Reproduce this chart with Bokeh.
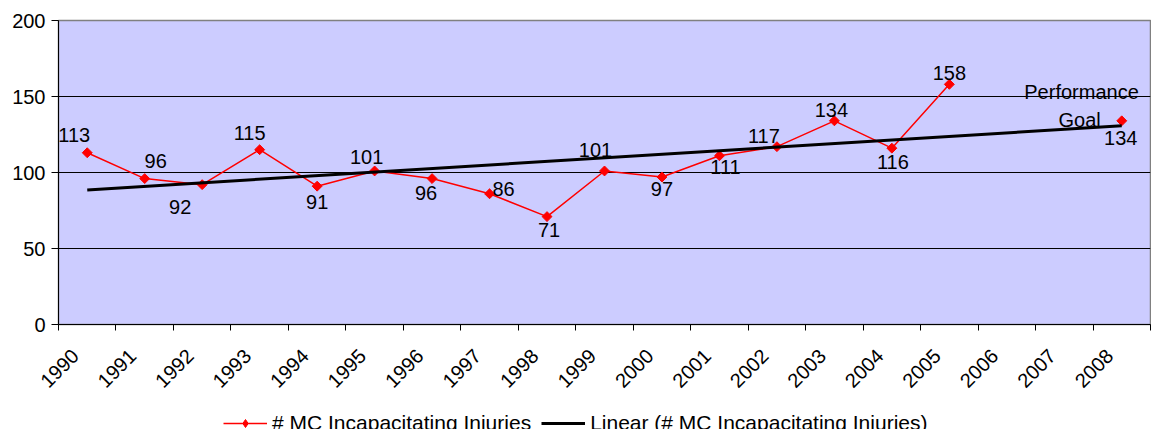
import math
import numpy as np
from bokeh.plotting import figure
from bokeh.layouts import column
from bokeh.models import (FixedTicker, Range1d, Legend, LegendItem,
                          ColumnDataSource)
from bokeh.core.properties import value
from bokeh.embed import file_html
from bokeh.resources import INLINE

# ---------------- data ----------------
years = ["1990", "1991", "1992", "1993", "1994", "1995", "1996", "1997",
         "1998", "1999", "2000", "2001", "2002", "2003", "2004", "2005",
         "2006", "2007", "2008"]
injuries = [113, 96, 92, 115, 91, 101, 96, 86, 71, 101, 97, 111, 117, 134,
            116, 158, None, None, 134]
trend_start = 88.5   # linear trend value at 1990
trend_end = 130.8    # linear trend value at 2008
goal_lines = ["Performance", "Goal"]
y_ticks = [0, 50, 100, 150, 200]
series_name = "# MC Incapacitating Injuries"
trend_name = "Linear (# MC Incapacitating Injuries)"

# ---------------- label placement (pixels) ----------------
lbl_dx = [-13, 11, -22, -10, 0, -8, -6, 14, 2, -9, 0, 6, -13, -3, 1, 0, 0, 0, -1]
lbl_dy = [-18, -18, 22, -17, 16, -14, 14, -5, 13, -21, 12, 11, -11, -11, 14, -11, 0, 0, 17]

FONT = "Liberation Sans"
FS = "20px"
RED = "#FF0000"

n = len(years)
xc = [i + 0.5 for i in range(n)]
x_lab = [i + 0.29 for i in range(n)]   # rotated label anchor, slightly left of centre
vals = [np.nan if v is None else float(v) for v in injuries]

src = ColumnDataSource(dict(x=xc, y=vals))
trend_src = ColumnDataSource(dict(x=[xc[0], xc[-1]], y=[trend_start, trend_end]))
have = [i for i, v in enumerate(injuries) if v is not None]
lab_src = ColumnDataSource(dict(
    x=[xc[i] for i in have],
    y=[vals[i] for i in have],
    t=[str(injuries[i]) for i in have],
    dx=[lbl_dx[i] for i in have],
    dy=[lbl_dy[i] for i in have],
))

p = figure(width=1151, height=398, output_backend="svg", toolbar_location=None,
           x_range=Range1d(0, n), y_range=Range1d(0, 200),
           min_border_left=58, min_border_right=1, min_border_top=20,
           min_border_bottom=74)
p.background_fill_color = "#CCCCFF"
p.border_fill_color = "white"
p.outline_line_color = "#808080"
p.outline_line_width = 1.5

# grid
p.xgrid.visible = False
p.ygrid.ticker = FixedTicker(ticks=[50, 100, 150])
p.ygrid.grid_line_color = "black"
p.ygrid.grid_line_width = 1

# y axis
p.yaxis.ticker = FixedTicker(ticks=y_ticks)
p.yaxis.axis_line_color = "black"
p.yaxis.major_tick_line_color = "black"
p.yaxis.major_tick_out = 7
p.yaxis.major_tick_in = 0
p.yaxis.minor_tick_line_color = None
p.yaxis.major_label_standoff = 6
p.yaxis.major_label_text_font = FONT
p.yaxis.major_label_text_font_size = FS
p.yaxis.major_label_text_color = "black"

# x axis: labels at category centres, tick marks between categories
p.xaxis.ticker = FixedTicker(ticks=x_lab, minor_ticks=list(range(n + 1)))
p.xaxis.major_label_overrides = {x_lab[i]: years[i] for i in range(n)}
p.xaxis.axis_line_color = "black"
p.xaxis.major_tick_out = 0
p.xaxis.major_tick_in = 0
p.xaxis.minor_tick_out = 6
p.xaxis.minor_tick_in = 0
p.xaxis.minor_tick_line_color = "black"
p.xaxis.major_label_orientation = math.pi / 4
p.xaxis.major_label_standoff = 22
p.xaxis.major_label_text_font = FONT
p.xaxis.major_label_text_font_size = FS
p.xaxis.major_label_text_color = "black"

# series
line_style = dict(line_color=RED, line_width=1.5)
trend_style = dict(line_color="black", line_width=3)

line_r = p.line("x", "y", source=src, **line_style)
pts_r = p.scatter("x", "y", source=src, marker="square", size=7, angle=math.pi / 4,
                  fill_color=RED, line_color=RED)
trend_r = p.line("x", "y", source=trend_src, **trend_style)

# data labels
p.text("x", "y", text="t", source=lab_src, x_offset="dx", y_offset="dy",
       text_align="center", text_baseline="middle",
       text_font=value(FONT), text_font_size=FS, text_color="black")

# performance goal annotation
goal_src = ColumnDataSource(dict(
    x=[xc[-1], xc[-1]], y=[vals[-1], vals[-1]], t=goal_lines,
    dx=[17, -21], dy=[-29, -1]))
p.text("x", "y", text="t", source=goal_src, x_offset="dx", y_offset="dy",
       text_align="right", text_baseline="middle",
       text_font=value(FONT), text_font_size=FS, text_color="black")

# ---------------- legend strip below the chart ----------------
# same series drawn in a strip whose ranges show none of the data: only the legend is visible
lg = figure(width=1151, height=31, output_backend="svg", toolbar_location=None,
            x_range=Range1d(0, n), y_range=Range1d(-2, -1),
            min_border_left=0, min_border_right=0, min_border_top=0,
            min_border_bottom=0)
lg.axis.visible = False
lg.grid.visible = False
lg.outline_line_color = None
lg.background_fill_color = "white"
l1 = lg.line("x", "y", source=src, **line_style)
l2 = lg.scatter("x", "y", source=src, marker="diamond", size=12,
                fill_color=RED, line_color=RED)
l3 = lg.line("x", "y", source=trend_src, **trend_style)
legend = Legend(items=[
    LegendItem(label=series_name, renderers=[l1, l2]),
    LegendItem(label=trend_name, renderers=[l3]),
], orientation="horizontal", location=(165, -6), glyph_width=44,
    glyph_height=20, label_standoff=5, spacing=10, padding=0, margin=0,
    border_line_alpha=0, background_fill_alpha=0,
    label_text_font=FONT, label_text_font_size="21px", label_text_color="black")
lg.add_layout(legend, "center")

layout = column(p, lg, spacing=0)
open("out.html", "w").write(file_html(layout, INLINE))
